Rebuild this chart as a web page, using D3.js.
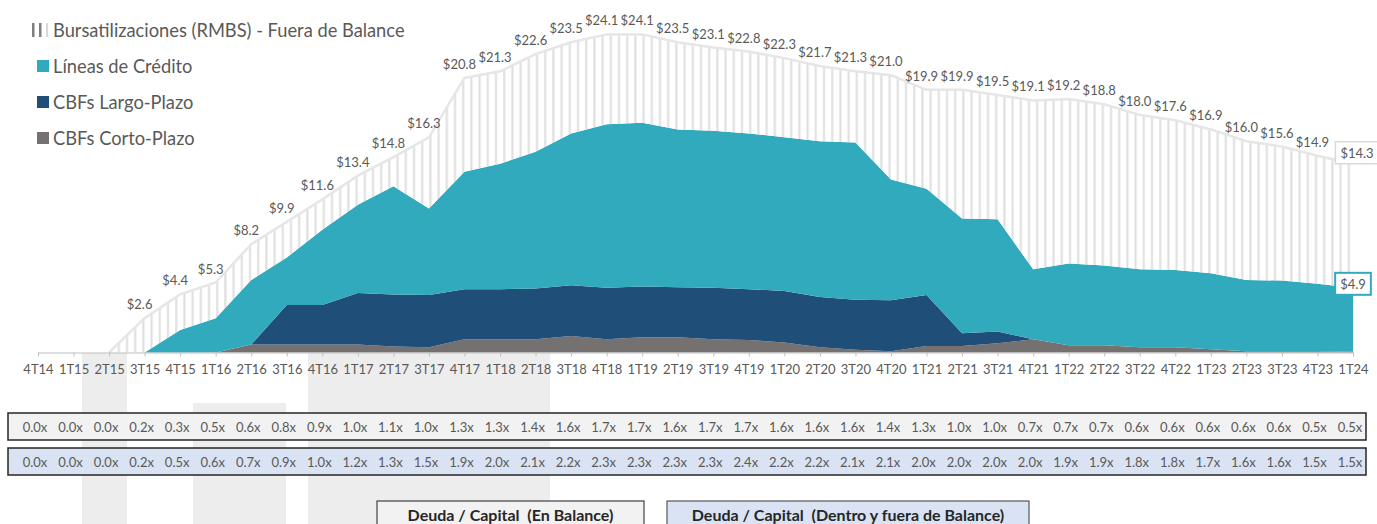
<!DOCTYPE html>
<html>
<head>
<meta charset="utf-8">
<script src="https://cdn.jsdelivr.net/npm/d3@7"></script>
<style>
  body { margin: 0; background: #fff; }
  svg { display: block; font-family: Lato, "Open Sans", sans-serif; }
</style>
</head>
<body>
<svg id="chart"></svg>
<script>
// trimestres
const quarters = ["4T14", "1T15", "2T15", "3T15", "4T15", "1T16", "2T16", "3T16", "4T16",
  "1T17", "2T17", "3T17", "4T17", "1T18", "2T18", "3T18", "4T18", "1T19", "2T19", "3T19",
  "4T19", "1T20", "2T20", "3T20", "4T20", "1T21", "2T21", "3T21", "4T21", "1T22", "2T22",
  "3T22", "4T22", "1T23", "2T23", "3T23", "4T23", "1T24"];

// series apiladas (miles de millones)
const cortoPlazo = [0, 0, 0, 0, 0, 0, 0.6, 0.6, 0.6, 0.6, 0.45, 0.4, 1.0, 1.0, 1.0, 1.25, 1.0, 1.15,
  1.15, 1.0, 0.95, 0.75, 0.4, 0.2, 0.1, 0.5, 0.5, 0.7, 1.0, 0.55, 0.55, 0.4, 0.4, 0.25, 0.1, 0.1, 0.1, 0.05];
const largoPlazo = [0, 0, 0, 0, 0, 0, 0, 3.0, 3.0, 3.9, 3.95, 3.95, 3.8, 3.8, 3.85, 3.85, 3.9, 3.85,
  3.8, 3.9, 3.85, 3.9, 3.8, 3.8, 3.85, 3.85, 0.95, 0.9, 0, 0, 0, 0, 0, 0, 0, 0, 0, 0];
const lineasCredito = [0, 0, 0, 0, 1.7, 2.6, 4.9, 3.6, 5.7, 6.7, 8.2, 6.55, 8.9, 9.5, 10.35, 11.5, 12.4, 12.4,
  11.95, 11.9, 11.8, 11.65, 11.8, 11.9, 9.15, 8.05, 8.7, 8.5, 5.3, 6.2, 6.05, 5.9, 5.85, 5.75, 5.4, 5.35, 5.1, 4.85];
const rmbs = [0, 0, 0, 2.6, 2.7, 2.7, 2.7, 2.7, 2.3, 2.2, 2.2, 5.4, 7.1, 7.0, 7.4, 6.9, 6.8, 6.7,
  6.6, 6.3, 6.2, 6.0, 5.7, 5.4, 7.9, 7.5, 9.75, 9.4, 12.8, 12.45, 12.2, 11.7, 11.35, 10.9, 10.5, 10.15, 9.7, 9.4];

// Deuda / Capital
const deudaEnBalance = [0.0, 0.0, 0.0, 0.2, 0.3, 0.5, 0.6, 0.8, 0.9, 1.0, 1.1, 1.0, 1.3, 1.3, 1.4, 1.6, 1.7, 1.7,
  1.6, 1.7, 1.7, 1.6, 1.6, 1.6, 1.4, 1.3, 1.0, 1.0, 0.7, 0.7, 0.7, 0.6, 0.6, 0.6, 0.6, 0.6, 0.5, 0.5];
const deudaTotal = [0.0, 0.0, 0.0, 0.2, 0.5, 0.6, 0.7, 0.9, 1.0, 1.2, 1.3, 1.5, 1.9, 2.0, 2.1, 2.2, 2.3, 2.3,
  2.3, 2.3, 2.4, 2.2, 2.2, 2.1, 2.1, 2.0, 2.0, 2.0, 2.0, 1.9, 1.9, 1.8, 1.8, 1.7, 1.6, 1.6, 1.5, 1.5];

const keys = ["corto", "largo", "lineas", "rmbs"];
const colors = { corto: "#767171", largo: "#1f4e79", lineas: "#31aabd" };
const legendItems = [
  { key: "rmbs", label: "Bursatilizaciones (RMBS) - Fuera de Balance" },
  { key: "lineas", label: "Líneas de Crédito" },
  { key: "largo", label: "CBFs Largo-Plazo" },
  { key: "corto", label: "CBFs Corto-Plazo" }
];

const width = 1377;
const height = 524;
const textColor = "#595959";

const svg = d3.select("#chart")
  .attr("width", width)
  .attr("height", height);

const defs = svg.append("defs");
const hatch = defs.append("pattern")
  .attr("id", "hatch")
  .attr("patternUnits", "userSpaceOnUse")
  .attr("width", 8.2)
  .attr("height", 8);
hatch.append("rect").attr("width", 8.2).attr("height", 8).attr("fill", "#fff");
hatch.append("rect").attr("x", 3).attr("width", 2).attr("height", 8).attr("fill", "#dedede");

// marca de agua gris de fondo
const watermark = [[82, 353, 45, 171], [193, 403, 93, 121], [308, 353, 242, 171]];
svg.append("g").selectAll("rect")
  .data(watermark)
  .join("rect")
  .attr("x", d => d[0]).attr("y", d => d[1])
  .attr("width", d => d[2]).attr("height", d => d[3])
  .attr("fill", "#ededed");

// escalas
const x = d3.scalePoint()
  .domain(quarters)
  .range([38, 1353]);

const y = d3.scaleLinear()
  .domain([0, 25])
  .range([352.5, 22.5]);

const rows = quarters.map((q, i) => ({
  q,
  corto: cortoPlazo[i],
  largo: largoPlazo[i],
  lineas: lineasCredito[i],
  rmbs: rmbs[i]
}));

const series = d3.stack().keys(keys)(rows);

const area = d3.area()
  .x(d => x(d.data.q))
  .y0(d => y(d[0]))
  .y1(d => y(d[1]));

svg.append("g")
  .selectAll("path")
  .data(series)
  .join("path")
  .attr("d", area)
  .attr("fill", d => d.key === "rmbs" ? "url(#hatch)" : colors[d.key]);

// borde superior del area de bursatilizaciones
const topLine = d3.line()
  .x(d => x(d.data.q))
  .y(d => y(d[1]));
svg.append("path")
  .datum(series[3].filter((d, i) => i >= 2))
  .attr("d", topLine)
  .attr("fill", "none")
  .attr("stroke", "#e6e6e6")
  .attr("stroke-width", 2.5);

// eje x
const xAxis = svg.append("g")
  .attr("transform", `translate(0, ${y(0)})`)
  .call(d3.axisBottom(x).tickSize(4).tickSizeOuter(0).tickPadding(8));
xAxis.select(".domain").attr("stroke", "#bfbfbf");
xAxis.selectAll(".tick line").attr("stroke", "#bfbfbf");
xAxis.selectAll(".tick text")
  .attr("fill", textColor)
  .style("font-size", "13px")
  .style("font-family", "Lato, sans-serif");

// etiquetas del total
const fmt = d3.format(".1f");
const totals = series[3];
const last = quarters.length - 1;
svg.append("g")
  .style("opacity", 0.999)
  .selectAll("text")
  .data(totals.filter((d, i) => i >= 3 && i < last))
  .join("text")
  .attr("x", d => x(d.data.q) - 5)
  .attr("y", d => y(d[1]) - 14)
  .attr("text-anchor", "middle")
  .attr("dominant-baseline", "central")
  .attr("fill", textColor)
  .style("font-size", "13px")
  .text(d => "$" + fmt(d[1]));

// etiquetas con recuadro al final
function boxedLabel(value, px, py, stroke, strokeWidth) {
  const g = svg.append("g");
  const t = g.append("text")
    .attr("x", px)
    .attr("y", py)
    .attr("text-anchor", "middle")
    .attr("dominant-baseline", "central")
    .attr("fill", textColor)
    .style("font-size", "13px")
    .text("$" + fmt(value));
  const b = t.node().getBBox();
  g.insert("rect", "text")
    .attr("x", b.x - 5).attr("y", b.y - 3)
    .attr("width", b.width + 10).attr("height", b.height + 6)
    .attr("fill", "#fff")
    .attr("stroke", stroke)
    .attr("stroke-width", strokeWidth);
}
boxedLabel(totals[last][1], x(quarters[last]) + 4, y(totals[last][1]) - 11, "#d9d9d9", 1.5);
boxedLabel(series[2][last][1], x(quarters[last]), y(series[2][last][1]) - 4, "#31aabd", 2);

// leyenda
const legend = svg.append("g").attr("transform", "translate(32, 0)");
legendItems.forEach((item, i) => {
  const cy = 30 + i * 36;
  if (item.key === "rmbs") {
    [0, 7].forEach(dx => legend.append("rect")
      .attr("x", dx).attr("y", cy - 7).attr("width", 2.5).attr("height", 14)
      .attr("fill", "#7f7f7f"));
    legend.append("rect")
      .attr("x", 14).attr("y", cy - 7).attr("width", 2).attr("height", 14)
      .attr("fill", "#d9d9d9");
  } else {
    legend.append("rect")
      .attr("x", 5).attr("y", cy - 6).attr("width", 12).attr("height", 12)
      .attr("fill", colors[item.key]);
  }
  legend.append("text")
    .attr("x", 21)
    .attr("y", cy)
    .attr("dominant-baseline", "central")
    .attr("fill", textColor)
    .style("font-size", "18.3px")
    .text(item.label);
});

// tablas Deuda / Capital
const tables = [
  { values: deudaEnBalance, top: 413, fill: "#f2f2f2" },
  { values: deudaTotal, top: 448, fill: "#dae3f3" }
];
tables.forEach(t => {
  svg.append("rect")
    .attr("x", 8).attr("y", t.top)
    .attr("width", 1358).attr("height", 27)
    .attr("fill", t.fill)
    .attr("stroke", "#262626")
    .attr("stroke-width", 1.5);
  svg.append("g")
    .selectAll("text")
    .data(t.values)
    .join("text")
    .attr("x", (d, i) => x(quarters[i]) - 3)
    .attr("y", t.top + 14)
    .attr("text-anchor", "middle")
    .attr("dominant-baseline", "central")
    .attr("fill", textColor)
    .style("font-size", "13px")
    .text(d => fmt(d) + "x");
});

// recuadros inferiores
const boxes = [
  { label: "Deuda / Capital  (En Balance)", x: 377, w: 267, fill: "#f2f2f2", stroke: "#404040" },
  { label: "Deuda / Capital  (Dentro y fuera de Balance)", x: 667, w: 362, fill: "#dae3f3", stroke: "#595959" }
];
boxes.forEach(bx => {
  svg.append("rect")
    .attr("x", bx.x).attr("y", 501)
    .attr("width", bx.w).attr("height", 30)
    .attr("fill", bx.fill)
    .attr("stroke", bx.stroke)
    .attr("stroke-width", 1.2);
  svg.append("text")
    .attr("x", bx.x + bx.w / 2)
    .attr("y", 514)
    .attr("text-anchor", "middle")
    .attr("dominant-baseline", "central")
    .attr("fill", "#262626")
    .style("font-size", "16px")
    .style("font-weight", "bold")
    .style("white-space", "pre")
    .text(bx.label);
});
</script>
</body>
</html>
